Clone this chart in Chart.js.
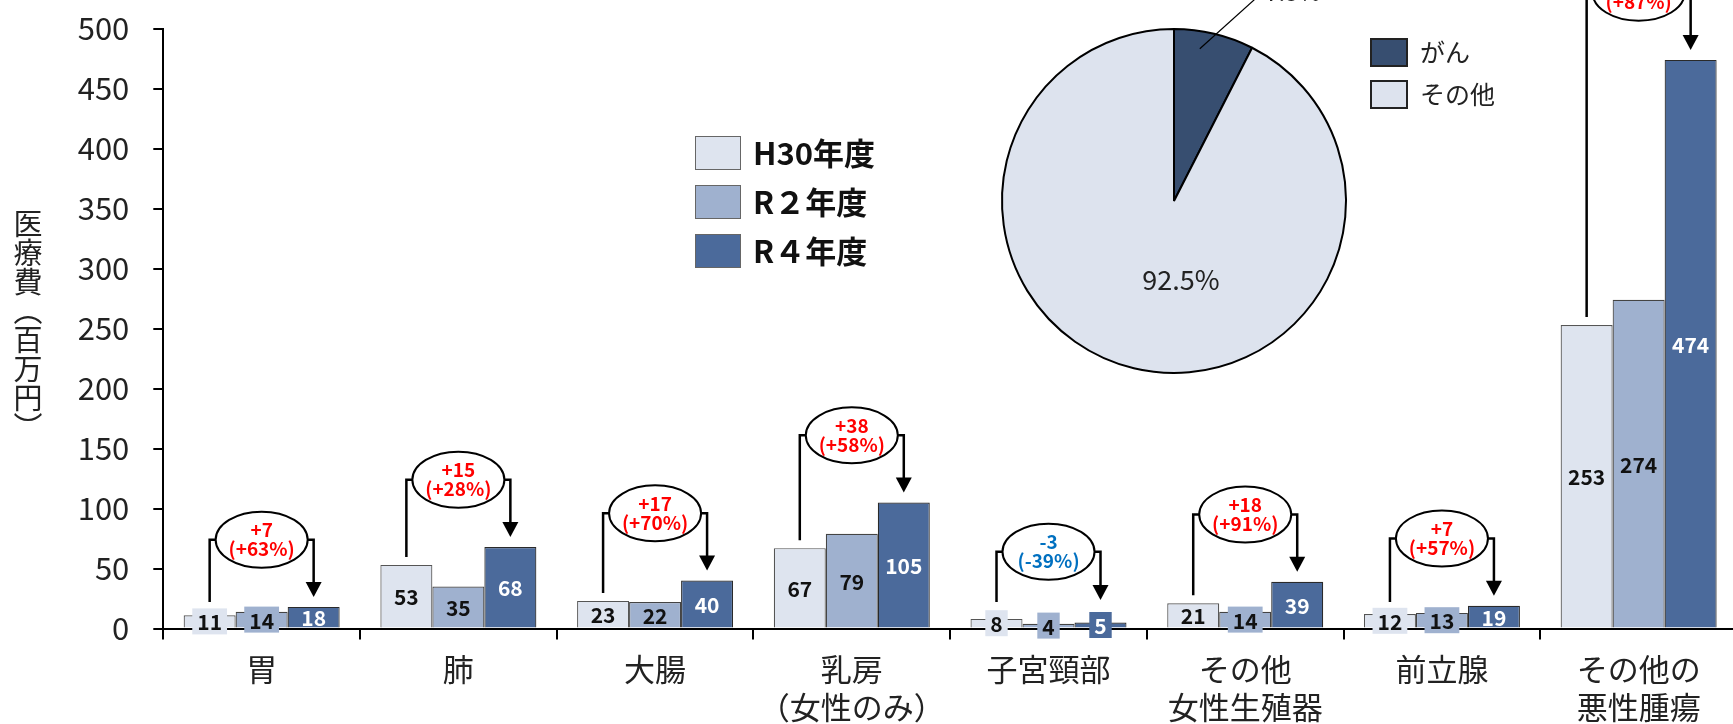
<!DOCTYPE html>
<html><head><meta charset="utf-8">
<script src="https://cdn.jsdelivr.net/npm/chart.js@4.4.1/dist/chart.umd.min.js"></script>
<style>
html,body{margin:0;padding:0;width:1733px;height:724px;overflow:hidden;background:#fff;font-family:'Noto Sans CJK JP',sans-serif;}
#main{position:absolute;left:0;top:0;width:1737px;height:724px;}
#pie{position:absolute;left:964px;top:0;width:420px;height:404px;}
.ytitle{position:absolute;left:13px;top:209px;writing-mode:vertical-rl;font-size:29px;line-height:29px;color:#222;}
.lbox{position:absolute;box-sizing:border-box;}
.ltxt{position:absolute;white-space:nowrap;color:#111;}
</style></head>
<body>
<div id="main"><canvas id="c1"></canvas></div>
<div id="pie"><canvas id="c2"></canvas></div>
<div class="ytitle">医療費（百万円）</div>
<div id="legends"></div>
<script>
// ---- data ----
const categories = [['胃'],['肺'],['大腸'],['乳房','（女性のみ）'],['子宮頸部'],['その他','女性生殖器'],['前立腺'],['その他の','悪性腫瘍']];
const seriesNames = ['H30年度','R２年度','R４年度'];
const valuesH30 = [11,53,23,67,8,21,12,253];
const valuesR2  = [14,35,22,79,4,14,13,274];
const valuesR4  = [18,68,40,105,5,39,19,474];
const changeLabels = ['+7','+15','+17','+38','-3','+18','+7','+221'];
const changePctLabels = ['(+63%)','(+28%)','(+70%)','(+58%)','(-39%)','(+91%)','(+57%)','(+87%)'];
const yMin = 0, yMax = 500, yStep = 50;
const pieLabels = ['がん','その他'];
const pieValues = [7.5, 92.5];

// ---- styles ----
const FONT = "'Noto Sans CJK JP', sans-serif";
Chart.defaults.font.family = FONT;
const barColors = ['#dee4ef','#9fb1cf','#4b6a9b'];
const barBorders = ['#555','#444','#2a2a2a'];
const labelColors = ['#111','#111','#fff'];
const pieColors = ['#374e70','#dde3ee'];

// ---- legends (HTML text) ----
const leg = document.getElementById('legends');
seriesNames.forEach((n,i)=>{
  const top = 136 + i*49;
  const b = document.createElement('div'); b.className='lbox';
  Object.assign(b.style,{left:'695px',top:top+'px',width:'46px',height:'34px',background:barColors[i],border:'1.5px solid #666'});
  const t = document.createElement('div'); t.className='ltxt'; t.textContent=n;
  Object.assign(t.style,{left:'753px',top:(top-1)+'px',lineHeight:'34px',fontSize:'31px',fontWeight:'bold'});
  leg.appendChild(b); leg.appendChild(t);
});
pieLabels.forEach((n,i)=>{
  const top = 38 + i*42;
  const b = document.createElement('div'); b.className='lbox';
  Object.assign(b.style,{left:'1370px',top:top+'px',width:'38px',height:'29px',background:pieColors[i],border:'2px solid #222'});
  const t = document.createElement('div'); t.className='ltxt'; t.textContent=n;
  Object.assign(t.style,{left:'1420px',top:(top-1)+'px',lineHeight:'29px',fontSize:'25px',color:'#222'});
  leg.appendChild(b); leg.appendChild(t);
});

// ---- bar labels + change annotations ----
const annPlugin = {
  id:'ann',
  afterDatasetsDraw(chart){
    const ctx = chart.ctx, y = chart.scales.y;
    const metas = [0,1,2].map(k=>chart.getDatasetMeta(k));
    ctx.save();
    // data labels
    chart.data.datasets.forEach((ds,di)=>{
      metas[di].data.forEach((bar,i)=>{
        const v = ds.data[i];
        const cy = (bar.y + bar.base)/2;
        ctx.font = 'bold 21px ' + FONT;
        const txt = String(v);
        const w = ctx.measureText(txt).width;
        if (v < 16) {
          ctx.fillStyle = barColors[di];
          ctx.fillRect(bar.x - w/2 - 5, cy - 13, w + 10, 26);
        }
        ctx.fillStyle = labelColors[di];
        ctx.textAlign='center'; ctx.textBaseline='middle';
        ctx.fillText(txt, bar.x, cy + 1);
      });
    });
    // brackets
    const baseLim = y.getPixelForValue(22);
    for (let i=0;i<categories.length;i++){
      const a = valuesH30[i], b = valuesR4[i];
      const yB = y.getPixelForValue(Math.max(a,b) + 56);
      const xL = metas[0].data[i].x, xR = metas[2].data[i].x, cx = metas[1].data[i].x;
      const yLeftEnd = Math.min(metas[0].data[i].y - 8, baseLim);
      const tip = Math.min(metas[2].data[i].y - 10, baseLim - 2);
      const rx = 46, ry = 28;
      ctx.strokeStyle='#000'; ctx.lineWidth=2.5; ctx.lineJoin='miter'; ctx.lineCap='butt';
      ctx.beginPath(); ctx.moveTo(xL, yLeftEnd); ctx.lineTo(xL, yB); ctx.lineTo(cx-rx, yB); ctx.stroke();
      ctx.beginPath(); ctx.moveTo(cx+rx, yB); ctx.lineTo(xR, yB); ctx.lineTo(xR, tip-13); ctx.stroke();
      ctx.fillStyle='#000';
      ctx.beginPath(); ctx.moveTo(xR-8, tip-15); ctx.lineTo(xR+8, tip-15); ctx.lineTo(xR, tip); ctx.closePath(); ctx.fill();
      ctx.beginPath(); ctx.ellipse(cx, yB, rx, ry, 0, 0, Math.PI*2);
      ctx.fillStyle='#fff'; ctx.fill(); ctx.lineWidth=2; ctx.stroke();
      ctx.fillStyle = changeLabels[i].startsWith('-') ? '#0070c0' : '#ff0000';
      ctx.font = 'bold 19px ' + FONT; ctx.textAlign='center'; ctx.textBaseline='middle';
      ctx.fillText(changeLabels[i], cx, yB - 9.5);
      ctx.fillText(changePctLabels[i], cx, yB + 9.5);
    }
    ctx.restore();
  }
};

new Chart(document.getElementById('c1'), {
  type:'bar',
  data:{
    labels: categories,
    datasets: [valuesH30, valuesR2, valuesR4].map((d,i)=>({
      label: seriesNames[i], data: d,
      backgroundColor: barColors[i], borderColor: barBorders[i], borderWidth: 1.2,
      categoryPercentage: 0.793, barPercentage: 1.0
    }))
  },
  options:{
    responsive:true, maintainAspectRatio:false, animation:false,
    layout:{padding:{top:28.7,left:0,right:0,bottom:0}},
    plugins:{legend:{display:false}, tooltip:{enabled:false}},
    scales:{
      x:{
        grid:{display:true, drawOnChartArea:false, drawTicks:true, tickLength:11, color:'#000', lineWidth:2, offset:true},
        border:{display:true, color:'#000', width:2},
        ticks:{font:{size:31, lineHeight:1.25}, color:'#222', padding:10, maxRotation:0, autoSkip:false},
        afterFit(s){ s.height = 95.5; }
      },
      y:{
        min:yMin, max:yMax,
        grid:{drawOnChartArea:false, tickLength:10, color:'#000', lineWidth:2},
        border:{display:true, color:'#000', width:2},
        ticks:{stepSize:yStep, font:{size:31, lineHeight:1}, color:'#222', padding:24},
        afterFit(s){ s.width = 163.3; s.paddingTop = 0; s.paddingBottom = 0; }
      }
    }
  },
  plugins:[annPlugin]
});

// ---- pie ----
const pieLabelPlugin = {
  id:'pieLabels',
  afterDatasetsDraw(chart){
    const ctx = chart.ctx;
    const arc = chart.getDatasetMeta(0).data[0];
    const cx = arc.x, cy = arc.y, r = arc.outerRadius;
    ctx.save();
    ctx.fillStyle='#222'; ctx.font='27px ' + FONT; ctx.textAlign='center'; ctx.textBaseline='middle';
    ctx.fillText(pieValues[1].toFixed(1)+'%', cx + 0.04*r, cy + 0.46*r);
    ctx.strokeStyle='#000'; ctx.lineWidth=1.2;
    ctx.beginPath(); ctx.moveTo(cx + 0.15*r, cy - 0.885*r); ctx.lineTo(cx + 0.5*r, cy - 1.2*r); ctx.stroke();
    ctx.font='24px ' + FONT; ctx.textAlign='left'; ctx.textBaseline='alphabetic';
    ctx.fillText(pieValues[0].toFixed(1)+'%', cx + 0.53*r, cy - 1.163*r);
    ctx.restore();
  }
};
new Chart(document.getElementById('c2'), {
  type:'pie',
  data:{labels:pieLabels, datasets:[{data:pieValues, backgroundColor:pieColors, borderColor:'#000', borderWidth:2}]},
  options:{
    responsive:true, maintainAspectRatio:false, animation:false,
    layout:{padding:{top:28, bottom:30, left:37, right:37}},
    plugins:{legend:{display:false}, tooltip:{enabled:false}}
  },
  plugins:[pieLabelPlugin]
});
</script>
</body></html>
